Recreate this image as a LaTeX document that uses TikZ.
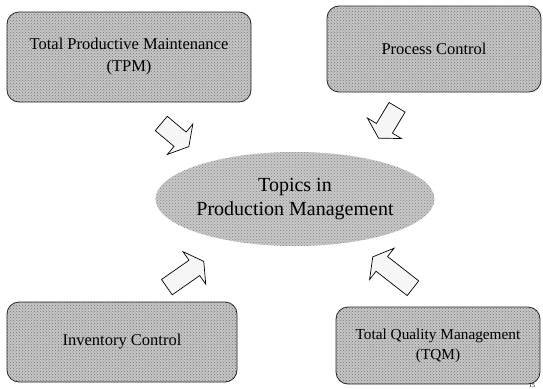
\documentclass[tikz,border=0pt]{standalone}
\usepackage{fontspec}
\setmainfont{Liberation Serif}
\usetikzlibrary{shapes.arrows,shapes.geometric,patterns}
\begin{document}
\begin{tikzpicture}[x=1pt,y=-1pt,
  topicbox/.style={draw=black!85, line width=0.8pt, rounded corners=12pt,
    align=center, inner sep=0pt, preaction={fill=gray!45},
    pattern=crosshatch dots, pattern color=black!55},
  hub/.style={ellipse, draw=none, align=center, inner sep=0pt,
    minimum width=244pt, minimum height=94pt, preaction={fill=gray!42},
    pattern=crosshatch dots, pattern color=black!50},
  blockarrow/.style={single arrow, draw=black, line width=0.7pt,
    fill=gray!7, inner xsep=0pt, inner ysep=9pt,
    single arrow head extend=10.5pt, single arrow tip angle=120}
]
\clip (0,0) rectangle (543,388);
\useasboundingbox (0,0) rectangle (543,388);

% the four topic boxes
\node[topicbox, minimum width=244pt, minimum height=90pt,
  font=\fontsize{16.5}{22}\selectfont] (tpm) at (129,57)
  {Total Productive Maintenance\\(TPM)};
\node[topicbox, minimum width=214pt, minimum height=86pt,
  font=\fontsize{16.5}{22}\selectfont] (pc) at (434,49)
  {Process Control};
\node[topicbox, minimum width=230pt, minimum height=80pt,
  font=\fontsize{16.5}{22}\selectfont] (ic) at (122,342)
  {Inventory Control};
\node[topicbox, minimum width=204pt, minimum height=77pt,
  font=\fontsize{15.3}{20}\selectfont] (tqm) at (438,345.5)
  {Total Quality Management\\(TQM)};

% central topic
\node[hub, font=\fontsize{20}{23.5}\selectfont] (core) at (295,199)
  {Topics in\\Production Management};

% block arrows pointing into the centre
\node[blockarrow, minimum height=36pt, rotate=-40] (a1) at (173,133.3) {};
\node[blockarrow, minimum height=36pt, rotate=-121] (a2) at (389.2,120.4) {};
\node[blockarrow, minimum height=45pt, rotate=35] (a3) at (183.1,275.8) {};
\node[blockarrow, minimum height=51pt, rotate=142] (a4) at (395,274.2) {};

% page number
\node[font=\fontsize{6}{7}\selectfont, inner sep=0pt] (pg) at (532,385.3) {15};
\end{tikzpicture}
\end{document}
